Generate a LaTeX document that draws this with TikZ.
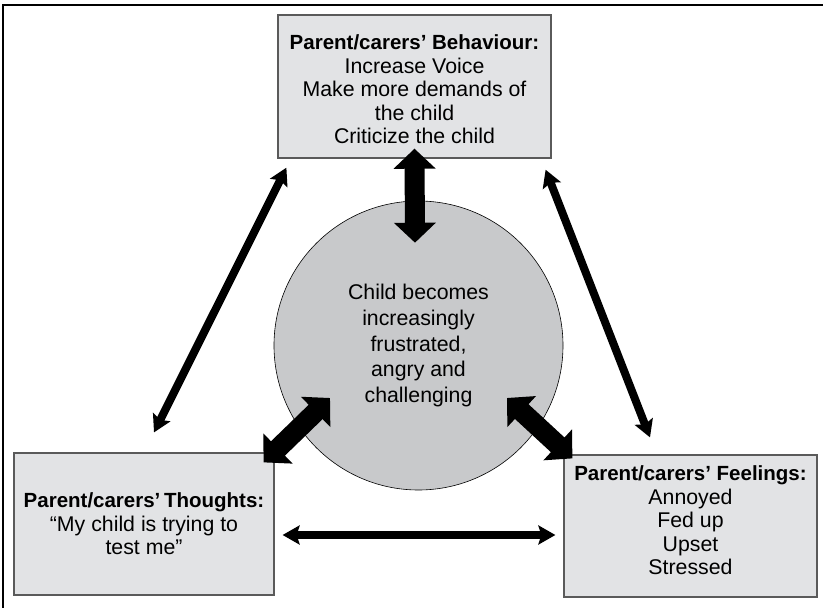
\documentclass[tikz,border=0pt]{standalone}
\usepackage{fontspec}
\setmainfont{Liberation Sans}
\usetikzlibrary{arrows.meta,positioning}
\definecolor{boxcol}{HTML}{E2E3E5}
\definecolor{circcol}{HTML}{C8C9CB}
\definecolor{edgecol}{HTML}{5A5A5A}
\newcommand\boxhead[1]{{\fontsize{20.5}{23.5}\selectfont\bfseries #1}}

\begin{document}
\begin{tikzpicture}[
  x=1pt, y=1pt,
  font=\fontsize{21.3}{23.5}\selectfont,
  box/.style={draw=edgecol,line width=1.2pt,fill=boxcol,align=center,
              inner sep=0pt},
  child/.style={circle,draw=black,line width=0.6pt,fill=circcol,
                minimum size=289pt,align=center,inner sep=0pt,
                font=\fontsize{21.3}{25.8}\selectfont},
  thickarr/.style={line width=20pt,>={Triangle[width=41pt,length=20pt]},<->},
  thinarr/.style={line width=8pt,
                  >={Stealth[width=19pt,length=17pt,inset=3pt]},<->},
]
\useasboundingbox (0,0) rectangle (823,608);

% frame
\draw[line width=2pt] (3,0) -- (3,603) -- (823,603);

\node[child] (child) at (418.5,262.5)
  {Child becomes\\increasingly\\frustrated,\\angry and\\challenging};

\node[box, minimum width=273pt, minimum height=143pt,
      above=42pt of child, xshift=-4pt] (behav)
  {\mbox{}\\[-3pt]\boxhead{Parent/carers’ Behaviour:}\\Increase Voice\\
   Make more demands of\\the child\\Criticize the child};

\node[box, minimum width=260pt, minimum height=142pt] (thought) at (144,84)
  {\boxhead{Parent/carers’\hspace{-0.1em} Thoughts:}\\“My child is trying to\\test me”};

\node[box, minimum width=253pt, minimum height=142pt] (feel) at (690.5,82)
  {\boxhead{Parent/carers’ Feelings:}\\Annoyed\\Fed up\\Upset\\Stressed\\[-12pt]\mbox{}};

% child <-> boxes
\draw[thickarr] ([yshift=10pt]behav.south) -- ([shift={(-3.5pt,-42pt)}]child.north);
\draw[thickarr] ([shift={(-88.5pt,-52.5pt)}]child.center)
  -- ([shift={(-11pt,-10pt)}]thought.north east);
\draw[thickarr] ([shift={(88.5pt,-52.5pt)}]child.center)
  -- ([shift={(9pt,-4pt)}]feel.north west);

% boxes <-> boxes
\draw[thinarr] ([shift={(9pt,-9pt)}]behav.south west)
  -- ([shift={(10pt,20pt)}]thought.north);
\draw[thinarr] ([shift={(-6pt,-11pt)}]behav.south east)
  -- ([shift={(-40.5pt,17pt)}]feel.north);
\draw[thinarr] ([shift={(8pt,-11pt)}]thought.east)
  -- ([shift={(-8pt,-9pt)}]feel.west);
\end{tikzpicture}
\end{document}
